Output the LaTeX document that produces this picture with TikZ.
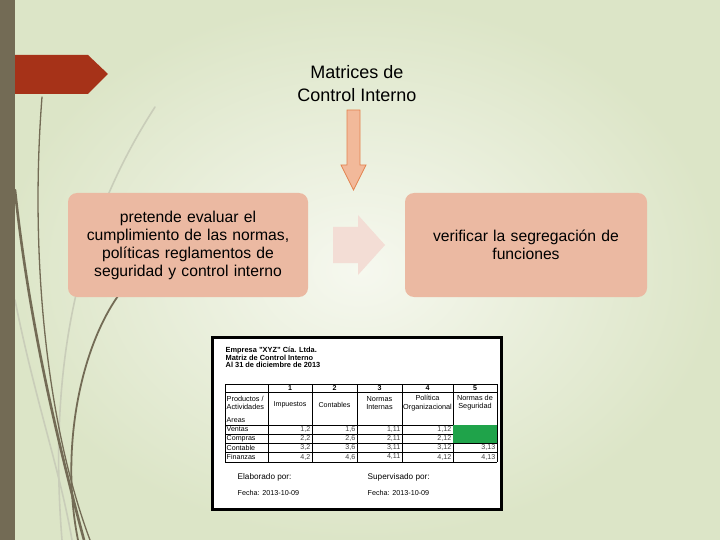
\documentclass[tikz,border=0pt]{standalone}
\usepackage{fontspec}
\setmainfont{Liberation Sans}
\definecolor{MCbgin}{HTML}{F6F8EF}
\definecolor{MCbgout}{HTML}{DCE5C7}
\definecolor{MCbar}{HTML}{736B55}
\definecolor{MCred}{HTML}{A63218}
\definecolor{MCbox}{HTML}{EBB9A2}
\definecolor{MCpale}{HTML}{F3DDD5}
\definecolor{MCarrow}{HTML}{F2B99A}
\definecolor{MCarrowline}{HTML}{E3834F}
\definecolor{MCgreen}{HTML}{1FA34A}
\definecolor{MCgrey}{HTML}{C9CDB9}
\usetikzlibrary{positioning}

\begin{document}
\begin{tikzpicture}[x=1pt, y=-1pt]
\tikzset{
  stem/.style={MCbar, line width=2.2pt, line cap=round},
  faint/.style={MCgrey, line width=1.6pt, line cap=round},
  panel/.style={fill=MCbox, rounded corners=9pt},
  tcell/.style={font=\fontsize{7.1}{7.5}\selectfont, inner sep=0.5pt},
  tval/.style={tcell, anchor=east, text=black!75},
}
  \useasboundingbox (0,0) rectangle (720,540);

  % Background
  \shade[inner color=MCbgin, outer color=MCbgout] (0,0) rectangle (720,540);

  % Decorative stems
  \draw[faint] (155,107) .. controls (95,200) and (45,330) .. (62,540);
  \draw[faint] (15,300) .. controls (35,400) and (60,470) .. (72,540);
  \draw[stem, line width=1.3pt] (42,97) .. controls (30,250) and (45,420) .. (90,540);
  \draw[stem, line width=2.6pt] (15,190) .. controls (30,330) and (60,450) .. (84,540);
  \draw[stem, line width=1.8pt] (118,296) .. controls (80,350) and (60,450) .. (78,540);

  % Banner and side bar
  \fill[MCred] (0,55) -- (88,55) -- (108,74) -- (88,94) -- (0,94) -- cycle;
  \fill[MCbar] (0,0) rectangle (15,540);

  % Title and down arrow
  \node[font=\fontsize{18}{23}\selectfont, align=center] (title) at (357,84)
    {Matrices de\\Control Interno};
  \draw[MCarrowline, fill=MCarrow, line width=0.8pt]
    (347,110) -- (360,110) -- (360,165) -- (366,165) -- (353.5,190)
    -- (341,165) -- (347,165) -- cycle;

  % Boxes
  \fill[panel] (68,193) rectangle (308,297);
  \node[font=\fontsize{15.7}{18}\selectfont, text width=236pt, align=center]
    (evaluar) at (188,245)
    {pretende evaluar el\\cumplimiento de las normas,\\pol\'iticas reglamentos de\\seguridad y control interno};
  \fill[panel] (405,193) rectangle (647,297);
  \node[font=\fontsize{15.7}{18}\selectfont, text width=236pt, align=center]
    (segregar) at (526,245)
    {verificar la segregaci\'on de\\funciones};
  \fill[MCpale] (333,227) -- (358,227) -- (358,215) -- (385,245)
    -- (358,275) -- (358,263) -- (333,263) -- cycle;

  % Table picture
  \draw[black, fill=white, line width=3pt] (212.5,337.5) rectangle (501.5,509.5);
  \node[tcell, anchor=west, align=left, font=\bfseries\fontsize{7.4}{6.8}\selectfont]
    (empresa) at (225,357)
    {Empresa "XYZ" C\'ia. Ltda.\\Matriz de Control Interno\\Al 31 de diciembre de 2013};
  \foreach \y in {384,392,425,434,443,452,462}
    \draw[black, line width=0.5pt] (225,\y) -- (497,\y);
  \foreach \x in {225,268,312,357,402,453,497}
    \draw[black, line width=0.5pt] (\x,384) -- (\x,462);
  \fill[MCgreen] (453.3,425.3) rectangle (496.7,442.7);

  % column heads
  \foreach \c/\x in {1/290,2/334.5,3/379.5,4/427.5,5/475}
    \node[tcell, font=\bfseries\fontsize{7.1}{7.5}\selectfont] (num\c) at (\x,388) {\c};
  \node[tcell, anchor=west, align=left, font=\fontsize{7.3}{8.2}\selectfont] (productos) at (226,403)
    {Productos /\\Actividades};
  \node[tcell, anchor=west] (areas) at (226,420) {Areas};
  \node[tcell] (impuestos) at (290,405) {Impuestos};
  \node[tcell] (contables) at (334.5,405) {Contables};
  \node[tcell, align=center, font=\fontsize{7.3}{8.2}\selectfont] (internas) at (379.5,403) {Normas\\Internas};
  \node[tcell, align=center, font=\fontsize{7.3}{8.2}\selectfont] (politica) at (427.5,403) {Pol\'itica\\Organizacional};
  \node[tcell, align=center, font=\fontsize{7.3}{8.2}\selectfont] (seguridad) at (475,403) {Normas de\\Seguridad};

  % rows
  \foreach \r/\lab/\y in {1/Ventas/429.5,2/Compras/438.5,3/Contable/447.5,4/Finanzas/457} {
    \node[tcell, anchor=west] (area\r) at (226,\y) {\lab};
    \node[tval] (v\r a) at (311,\y) {\r,2};
    \node[tval] (v\r b) at (356,\y) {\r,6};
    \node[tval] (v\r c) at (401,\y) {\r,11};
    \node[tval] (v\r d) at (452,\y) {\r,12};
  }
  \node[tval] (v3e) at (496,447.5) {3,13};
  \node[tval] (v4e) at (496,457) {4,13};

  % signatures
  \node[tcell, anchor=west, font=\fontsize{8.2}{9}\selectfont] (elaborado) at (237,477) {Elaborado por:};
  \node[tcell, anchor=west, font=\fontsize{8.2}{9}\selectfont] (supervisado) at (367,477) {Supervisado por:};
  \node[tcell, anchor=west, font=\fontsize{7.2}{8}\selectfont] (fecha1) at (237,493) {Fecha: 2013-10-09};
  \node[tcell, anchor=west, font=\fontsize{7.2}{8}\selectfont] (fecha2) at (367,493) {Fecha: 2013-10-09};
\end{tikzpicture}
\end{document}
